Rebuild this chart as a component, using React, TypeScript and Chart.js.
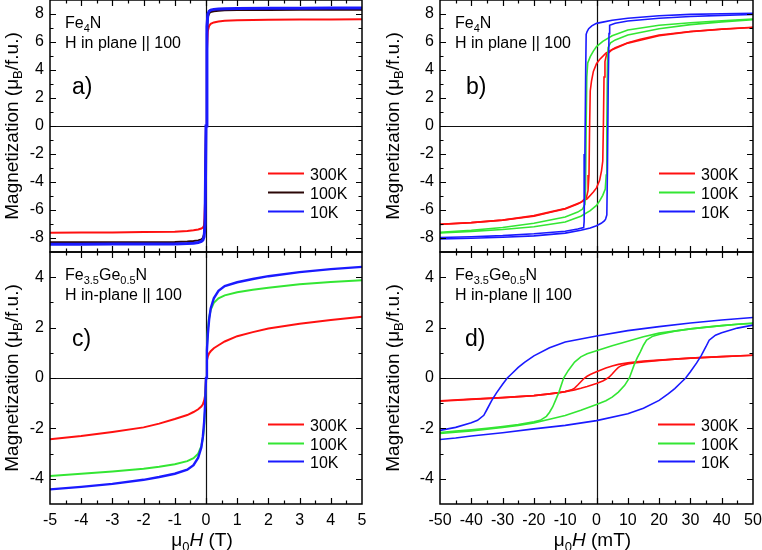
import React, { useEffect, useRef } from 'react';
import { Chart, registerables } from 'chart.js';

Chart.register(...registerables);

const FONT = '"Liberation Sans", Arial, Helvetica, sans-serif';
const RED = '#ff1010';
const GREEN = '#33e633';
const BLUE = '#1a1aff';
const DARK = '#2a0606';

const tempLabels = ['300K', '100K', '10K'];

// labelled tick values
const fe4nMomentTicks = [-8, -6, -4, -2, 0, 2, 4, 6, 8];
const fegeMomentTicks = [-4, -2, 0, 2, 4];
const teslaTicks = [-5, -4, -3, -2, -1, 0, 1, 2, 3, 4, 5];
const milliTeslaTicks = [-50, -40, -30, -20, -10, 0, 10, 20, 30, 40, 50];

// ---------- Fe4N, full field sweep (T) ----------
const fe4nHighH = [-5, -4, -3, -2, -1, -0.6, -0.4, -0.25, -0.15, -0.1, -0.06, -0.03, 0, 0.03, 0.06, 0.1, 0.15, 0.25, 0.4, 0.6, 1, 2, 3, 4, 5];
const fe4nHigh300K = [-7.62, -7.61, -7.6, -7.58, -7.55, -7.5, -7.45, -7.39, -7.32, -7.25, -7.1, -5.4, 0, 5.4, 6.8, 7.15, 7.3, 7.4, 7.47, 7.52, 7.56, 7.59, 7.6, 7.61, 7.62];
const fe4nHigh100K = [-8.31, -8.31, -8.3, -8.3, -8.28, -8.25, -8.22, -8.17, -8.1, -8.0, -7.7, -6.5, 0, 6.6, 7.8, 8.05, 8.15, 8.2, 8.24, 8.26, 8.28, 8.29, 8.3, 8.3, 8.3];
const fe4nHigh10K = [-8.44, -8.44, -8.43, -8.43, -8.42, -8.4, -8.37, -8.32, -8.25, -8.15, -7.9, -7.0, 0, 7.1, 8.0, 8.2, 8.28, 8.33, 8.36, 8.38, 8.4, 8.41, 8.41, 8.42, 8.42];

// ---------- Fe4N, low field loops (mT) ----------
const fe4n300KDownH = [50, 40, 30, 20, 14, 10, 6, 3, 1, 0, -1, -1.6, -2.0, -2.2, -2.4, -2.7, -3.2, -5, -10, -14, -20, -30, -40, -50];
const fe4n300KDownM = [7.05, 6.92, 6.75, 6.5, 6.2, 5.95, 5.6, 5.2, 4.75, 4.45, 3.9, 3.2, 2.5, 0, -3.5, -4.6, -5.1, -5.45, -5.9, -6.1, -6.4, -6.72, -6.9, -7.02];
const fe4n300KUpH = [-50, -40, -30, -20, -14, -10, -6, -3, -1, 0, 1, 1.6, 2.0, 2.2, 2.4, 2.7, 3.2, 5, 10, 14, 20, 30, 40, 50];
const fe4n300KUpM = [-7.03, -6.9, -6.72, -6.45, -6.12, -5.92, -5.58, -5.2, -4.72, -4.42, -3.88, -3.2, -2.5, 0, 3.5, 4.6, 5.1, 5.45, 5.92, 6.12, 6.45, 6.74, 6.91, 7.04];

const fe4n100KDownH = [50, 40, 30, 20, 10, 5, 2, 0, -1, -2, -2.8, -3.1, -3.3, -3.5, -3.7, -4.5, -6, -10, -20, -30, -40, -50];
const fe4n100KDownM = [7.64, 7.52, 7.38, 7.2, 6.86, 6.45, 6.05, 5.67, 5.35, 4.95, 4.5, 3.5, 0, -4.5, -5.6, -5.95, -6.15, -6.5, -6.95, -7.25, -7.45, -7.6];
const fe4n100KUpH = [-50, -40, -30, -20, -10, -5, -2, 0, 1, 2, 2.8, 3.1, 3.3, 3.5, 3.7, 4.5, 6, 10, 20, 30, 40, 50];
const fe4n100KUpM = [-7.64, -7.53, -7.39, -7.2, -6.86, -6.45, -6.05, -5.67, -5.35, -4.95, -4.5, -3.5, 0, 4.5, 5.6, 5.95, 6.15, 6.5, 6.95, 7.24, 7.44, 7.6];

const fe4n10KDownH = [50, 40, 30, 20, 10, 5, 2, 0, -1.5, -2.5, -3.0, -3.3, -3.45, -3.7, -3.95, -4.1, -6, -10, -20, -30, -40, -50];
const fe4n10KDownM = [8.05, 8.02, 7.97, 7.88, 7.7, 7.55, 7.42, 7.33, 7.15, 6.95, 6.75, 6.55, 4.0, -2.0, -6.8, -7.25, -7.36, -7.52, -7.7, -7.83, -7.91, -7.96];
const fe4n10KUpH = [-50, -40, -30, -20, -10, -5, -2, 0, 1.5, 2.5, 2.9, 3.3, 3.5, 3.75, 4.0, 4.2, 6, 10, 20, 30, 40, 50];
const fe4n10KUpM = [-8.06, -8.02, -7.95, -7.85, -7.65, -7.45, -7.28, -7.12, -6.95, -6.78, -6.65, -6.35, -3.0, 3.0, 6.6, 7.2, 7.34, 7.5, 7.7, 7.82, 7.9, 7.96];

// ---------- Fe3.5Ge0.5N, full field sweep (T) ----------
const fegeHighH = [-5, -4, -3, -2, -1.5, -1, -0.6, -0.4, -0.25, -0.15, -0.1, -0.06, -0.03, 0, 0.03, 0.06, 0.1, 0.15, 0.25, 0.4, 0.6, 1, 1.5, 2, 3, 4, 5];
const fegeHigh300K = [-2.43, -2.3, -2.14, -1.96, -1.81, -1.63, -1.47, -1.35, -1.24, -1.13, -1.04, -0.9, -0.7, 0, 0.7, 0.86, 0.98, 1.06, 1.18, 1.3, 1.45, 1.66, 1.82, 1.96, 2.15, 2.3, 2.43];
const fegeHigh100K = [-3.89, -3.8, -3.71, -3.6, -3.52, -3.42, -3.3, -3.18, -3.0, -2.7, -2.4, -1.95, -1.25, 0, 1.25, 1.95, 2.4, 2.7, 2.98, 3.16, 3.28, 3.4, 3.5, 3.58, 3.72, 3.81, 3.88];
const fegeHigh10K = [-4.42, -4.32, -4.2, -4.04, -3.93, -3.8, -3.64, -3.46, -3.16, -2.76, -2.32, -1.75, -1.1, 0, 1.1, 1.75, 2.32, 2.76, 3.16, 3.46, 3.65, 3.8, 3.93, 4.04, 4.2, 4.32, 4.41];

// ---------- Fe3.5Ge0.5N, low field loops (mT) ----------
const fege300KDownH = [50, 40, 30, 20, 15, 10, 7, 5, 3, 0, -2, -3, -4, -5, -6, -7, -8, -10, -12, -15, -20, -25, -30, -40, -50];
const fege300KDownM = [0.9, 0.85, 0.79, 0.71, 0.67, 0.6, 0.54, 0.48, 0.4, 0.25, 0.14, 0.07, -0.02, -0.15, -0.28, -0.4, -0.47, -0.54, -0.58, -0.63, -0.7, -0.74, -0.78, -0.85, -0.92];
const fege300KUpH = [-50, -40, -30, -25, -20, -15, -12, -10, -7, -5, -3, 0, 2, 3, 4, 5, 6, 7, 8, 10, 12, 15, 20, 25, 30, 40, 50];
const fege300KUpM = [-0.9, -0.84, -0.78, -0.74, -0.7, -0.63, -0.58, -0.54, -0.47, -0.41, -0.34, -0.22, -0.12, -0.05, 0.03, 0.16, 0.3, 0.42, 0.49, 0.56, 0.6, 0.64, 0.7, 0.75, 0.79, 0.85, 0.9];

const fege100KDownH = [50, 40, 30, 20, 15, 10, 5, 0, -3, -5, -7, -9, -10.5, -12, -13, -14, -15, -16, -18, -20, -25, -30, -35, -40, -45, -50];
const fege100KDownM = [2.18, 2.08, 1.95, 1.78, 1.64, 1.46, 1.28, 1.08, 0.96, 0.84, 0.63, 0.3, 0, -0.56, -0.86, -1.15, -1.36, -1.52, -1.68, -1.74, -1.85, -1.93, -2.0, -2.06, -2.11, -2.16];
const fege100KUpH = [-50, -45, -40, -35, -30, -25, -20, -15, -10, -5, 0, 3, 5, 7, 9, 10.5, 12, 13, 14, 15, 16, 18, 20, 25, 30, 35, 40, 45, 50];
const fege100KUpM = [-2.2, -2.15, -2.1, -2.03, -1.96, -1.88, -1.78, -1.64, -1.49, -1.28, -1.05, -0.9, -0.76, -0.56, -0.29, 0, 0.51, 0.8, 1.04, 1.3, 1.5, 1.66, 1.73, 1.86, 1.95, 2.02, 2.08, 2.13, 2.16];

const fege10KDownH = [50, 40, 30, 20, 10, 0, -10, -15, -20, -23, -25, -27, -28.5, -30, -32, -33.5, -35, -36, -38, -40, -45, -50];
const fege10KDownM = [2.4, 2.3, 2.18, 2.04, 1.88, 1.67, 1.43, 1.2, 0.88, 0.62, 0.42, 0.18, 0, -0.25, -0.6, -0.9, -1.25, -1.48, -1.68, -1.78, -1.96, -2.08];
const fege10KUpH = [-50, -45, -40, -30, -20, -10, 0, 10, 15, 20, 23, 25, 27, 28.5, 30, 32, 33.5, 35, 36, 38, 40, 45, 50];
const fege10KUpM = [-2.44, -2.38, -2.3, -2.17, -2.02, -1.88, -1.69, -1.42, -1.2, -0.89, -0.62, -0.42, -0.18, 0, 0.25, 0.6, 0.9, 1.25, 1.5, 1.7, 1.8, 1.98, 2.1];

type Seg = { t: string; sub?: boolean; it?: boolean };
type Branch = [number[], number[]];
type Series = { label: string; color: string; width: number; branches: Branch[] };
type Panel = {
  box: { left: number; top: number; right: number; bottom: number };
  x: { min: number; max: number; major: number; minor: number; labels: number[] | null };
  y: { min: number; max: number; major: number; minor: number; labels: number[] };
  series: Series[];
  formula: Seg[];
  fieldText: string;
  tag: string;
  tagDx: number;
  titleX: number;
  xTitle?: Seg[];
  legend: { x1: number; x2: number; tx: number; rows: number[] };
};

const yTitle: Seg[] = [{ t: 'Magnetization (μ' }, { t: 'B', sub: true }, { t: '/f.u.)' }];
const fe4nFormula: Seg[] = [{ t: 'Fe' }, { t: '4', sub: true }, { t: 'N' }];
const fegeFormula: Seg[] = [{ t: 'Fe' }, { t: '3.5', sub: true }, { t: 'Ge' }, { t: '0.5', sub: true }, { t: 'N' }];
const teslaTitle: Seg[] = [{ t: 'μ' }, { t: '0', sub: true }, { t: 'H', it: true }, { t: ' (T)' }];
const milliTeslaTitle: Seg[] = [{ t: 'μ' }, { t: '0', sub: true }, { t: 'H', it: true }, { t: ' (mT)' }];

const panels: Panel[] = [
  {
    box: { left: 50, top: 0, right: 362, bottom: 252 },
    x: { min: -5, max: 5, major: 1, minor: 0.5, labels: null },
    y: { min: -9, max: 9, major: 2, minor: 1, labels: fe4nMomentTicks },
    series: [
      { label: tempLabels[0], color: RED, width: 2, branches: [[fe4nHighH, fe4nHigh300K]] },
      { label: tempLabels[1], color: DARK, width: 2, branches: [[fe4nHighH, fe4nHigh100K]] },
      { label: tempLabels[2], color: BLUE, width: 3, branches: [[fe4nHighH, fe4nHigh10K]] },
    ],
    formula: fe4nFormula,
    fieldText: 'H in plane || 100',
    tag: 'a)',
    tagDx: 22,
    titleX: 17.5,
    legend: { x1: 268, x2: 304, tx: 310, rows: [173, 192, 211] },
  },
  {
    box: { left: 440, top: 0, right: 753, bottom: 252 },
    x: { min: -50, max: 50, major: 10, minor: 5, labels: null },
    y: { min: -9, max: 9, major: 2, minor: 1, labels: fe4nMomentTicks },
    series: [
      { label: tempLabels[0], color: RED, width: 1.6, branches: [[fe4n300KDownH, fe4n300KDownM], [fe4n300KUpH, fe4n300KUpM]] },
      { label: tempLabels[1], color: GREEN, width: 1.6, branches: [[fe4n100KDownH, fe4n100KDownM], [fe4n100KUpH, fe4n100KUpM]] },
      { label: tempLabels[2], color: BLUE, width: 1.6, branches: [[fe4n10KDownH, fe4n10KDownM], [fe4n10KUpH, fe4n10KUpM]] },
    ],
    formula: fe4nFormula,
    fieldText: 'H in plane || 100',
    tag: 'b)',
    tagDx: 26,
    titleX: 398.5,
    legend: { x1: 659, x2: 695, tx: 701, rows: [173, 192, 211] },
  },
  {
    box: { left: 50, top: 252, right: 362, bottom: 504 },
    x: { min: -5, max: 5, major: 1, minor: 0.5, labels: teslaTicks },
    y: { min: -5, max: 5, major: 2, minor: 1, labels: fegeMomentTicks },
    series: [
      { label: tempLabels[0], color: RED, width: 2, branches: [[fegeHighH, fegeHigh300K]] },
      { label: tempLabels[1], color: GREEN, width: 2, branches: [[fegeHighH, fegeHigh100K]] },
      { label: tempLabels[2], color: BLUE, width: 2.4, branches: [[fegeHighH, fegeHigh10K]] },
    ],
    formula: fegeFormula,
    fieldText: 'H in-plane || 100',
    tag: 'c)',
    tagDx: 22,
    titleX: 17.5,
    xTitle: teslaTitle,
    legend: { x1: 268, x2: 304, tx: 310, rows: [424, 443, 461] },
  },
  {
    box: { left: 440, top: 252, right: 753, bottom: 504 },
    x: { min: -50, max: 50, major: 10, minor: 5, labels: milliTeslaTicks },
    y: { min: -5, max: 5, major: 2, minor: 1, labels: fegeMomentTicks },
    series: [
      { label: tempLabels[0], color: RED, width: 1.6, branches: [[fege300KDownH, fege300KDownM], [fege300KUpH, fege300KUpM]] },
      { label: tempLabels[1], color: GREEN, width: 1.6, branches: [[fege100KDownH, fege100KDownM], [fege100KUpH, fege100KUpM]] },
      { label: tempLabels[2], color: BLUE, width: 1.6, branches: [[fege10KDownH, fege10KDownM], [fege10KUpH, fege10KUpM]] },
    ],
    formula: fegeFormula,
    fieldText: 'H in-plane || 100',
    tag: 'd)',
    tagDx: 25,
    titleX: 398.5,
    xTitle: milliTeslaTitle,
    legend: { x1: 658, x2: 695, tx: 701, rows: [424, 443, 461] },
  },
];

const PAGE_W = 762;
const PAGE_H = 550;
const Y_AXIS_W = 50;
const X_AXIS_H = 46;

function segFont(s: Seg, size: number) {
  return `${s.it ? 'italic ' : ''}${s.sub ? Math.round(size * 0.7) : size}px ${FONT}`;
}

function drawRich(ctx: CanvasRenderingContext2D, segs: Seg[], x: number, y: number, size: number, align: 'left' | 'center') {
  ctx.textAlign = 'left';
  ctx.textBaseline = 'alphabetic';
  let total = 0;
  for (const s of segs) {
    ctx.font = segFont(s, size);
    total += ctx.measureText(s.t).width;
  }
  let cx = align === 'center' ? x - total / 2 : x;
  for (const s of segs) {
    ctx.font = segFont(s, size);
    ctx.fillText(s.t, cx, s.sub ? y + size * 0.24 : y);
    cx += ctx.measureText(s.t).width;
  }
}

function makeDecor(p: Panel) {
  return {
    id: 'panelDecor',
    beforeDatasetsDraw(chart: any) {
      const { ctx, chartArea: a, scales } = chart;
      const x0 = Math.round(scales.x.getPixelForValue(0)) + 0.5;
      const y0 = Math.round(scales.y.getPixelForValue(0)) + 0.5;
      ctx.save();
      ctx.strokeStyle = '#111';
      ctx.lineWidth = 1.2;
      ctx.beginPath();
      ctx.moveTo(a.left, y0);
      ctx.lineTo(a.right, y0);
      ctx.moveTo(x0, a.top);
      ctx.lineTo(x0, a.bottom);
      ctx.stroke();
      ctx.restore();
    },
    afterDatasetsDraw(chart: any) {
      const { ctx, chartArea: a, scales } = chart;
      ctx.save();
      ctx.strokeStyle = '#000';
      // frame
      ctx.lineWidth = 1.5;
      ctx.strokeRect(a.left, a.top, a.right - a.left, a.bottom - a.top);
      // inward ticks on all four sides
      ctx.lineWidth = 1.2;
      ctx.beginPath();
      const nx = Math.round((p.x.max - p.x.min) / p.x.minor);
      for (let i = 1; i < nx; i++) {
        const v = p.x.min + i * p.x.minor;
        const px = Math.round(scales.x.getPixelForValue(v)) + 0.5;
        const len = Math.abs(v / p.x.major - Math.round(v / p.x.major)) < 1e-6 ? 6 : 3.5;
        ctx.moveTo(px, a.bottom);
        ctx.lineTo(px, a.bottom - len);
        ctx.moveTo(px, a.top);
        ctx.lineTo(px, a.top + len);
      }
      const ny = Math.round((p.y.max - p.y.min) / p.y.minor);
      for (let i = 1; i < ny; i++) {
        const v = p.y.min + i * p.y.minor;
        const py = Math.round(scales.y.getPixelForValue(v)) + 0.5;
        const len = Math.abs(v / p.y.major - Math.round(v / p.y.major)) < 1e-6 ? 6 : 3.5;
        ctx.moveTo(a.left, py);
        ctx.lineTo(a.left + len, py);
        ctx.moveTo(a.right, py);
        ctx.lineTo(a.right - len, py);
      }
      ctx.stroke();

      // annotations
      ctx.fillStyle = '#000';
      drawRich(ctx, p.formula, a.left + 15, a.top + 28, 16, 'left');
      drawRich(ctx, [{ t: p.fieldText }], a.left + 15, a.top + 47.5, 16, 'left');
      drawRich(ctx, [{ t: p.tag }], a.left + p.tagDx, a.top + 94, 23, 'left');

      // legend
      p.series.forEach((s, i) => {
        const y = p.legend.rows[i];
        ctx.strokeStyle = s.color;
        ctx.lineWidth = 2;
        ctx.beginPath();
        ctx.moveTo(p.legend.x1, y + 0.5);
        ctx.lineTo(p.legend.x2, y + 0.5);
        ctx.stroke();
        ctx.fillStyle = '#000';
        drawRich(ctx, [{ t: s.label }], p.legend.tx, y + 6.5, 16, 'left');
      });

      // axis titles
      ctx.save();
      ctx.translate(p.titleX, (a.top + a.bottom) / 2);
      ctx.rotate(-Math.PI / 2);
      drawRich(ctx, yTitle, 0, 0, 19, 'center');
      ctx.restore();
      if (p.xTitle) {
        drawRich(ctx, p.xTitle, (a.left + a.right) / 2 - 4, 546, 19, 'center');
      }
      ctx.restore();
    },
  };
}

function buildConfig(p: Panel): any {
  const datasets: any[] = [];
  // the first dataset is painted last, so the coldest curve sits on top
  [...p.series].reverse().forEach((s) => {
    s.branches.forEach(([h, m]) => {
      datasets.push({
        label: s.label,
        data: h.map((v, i) => ({ x: v, y: m[i] })),
        showLine: true,
        borderColor: s.color,
        backgroundColor: s.color,
        borderWidth: s.width,
        pointRadius: 0,
        pointHoverRadius: 0,
        tension: 0,
        fill: false,
      });
    });
  });
  const tickFont = { family: FONT, size: 16 };
  const xLabels = p.x.labels;
  const yLabels = p.y.labels;
  return {
    type: 'scatter',
    data: { datasets },
    plugins: [makeDecor(p)],
    options: {
      responsive: false,
      animation: false,
      devicePixelRatio: 1,
      events: [],
      layout: {
        padding: {
          left: p.box.left - Y_AXIS_W,
          right: PAGE_W - p.box.right,
          top: p.box.top,
          bottom: PAGE_H - p.box.bottom - (xLabels ? X_AXIS_H : 0),
        },
      },
      plugins: { legend: { display: false }, tooltip: { enabled: false }, title: { display: false } },
      scales: {
        x: {
          type: 'linear',
          min: p.x.min,
          max: p.x.max,
          grid: { display: false, drawTicks: false },
          border: { display: false },
          afterBuildTicks: (s: any) => {
            s.ticks = (xLabels || []).map((v) => ({ value: v }));
          },
          ticks: {
            display: !!xLabels,
            autoSkip: false,
            maxRotation: 0,
            padding: 7,
            color: '#000',
            font: tickFont,
          },
          afterFit: (s: any) => {
            s.height = xLabels ? X_AXIS_H : 0;
            s.paddingLeft = 0;
            s.paddingRight = 0;
          },
        },
        y: {
          type: 'linear',
          min: p.y.min,
          max: p.y.max,
          grid: { display: false, drawTicks: false },
          border: { display: false },
          afterBuildTicks: (s: any) => {
            s.ticks = yLabels.map((v) => ({ value: v }));
          },
          ticks: {
            padding: 6,
            color: '#000',
            font: tickFont,
          },
          afterFit: (s: any) => {
            s.width = Y_AXIS_W;
            s.paddingTop = 0;
            s.paddingBottom = 0;
          },
        },
      },
    },
  };
}

function PanelCanvas({ panel }: { panel: Panel }) {
  const ref = useRef<HTMLCanvasElement | null>(null);
  useEffect(() => {
    if (!ref.current) return;
    const chart = new Chart(ref.current, buildConfig(panel));
    return () => chart.destroy();
  }, [panel]);
  return (
    <canvas
      ref={ref}
      width={PAGE_W}
      height={PAGE_H}
      style={{ position: 'absolute', left: 0, top: 0, width: PAGE_W, height: PAGE_H }}
    />
  );
}

export default function App() {
  useEffect(() => {
    document.body.style.margin = '0';
    document.body.style.background = '#fff';
  }, []);
  return (
    <div style={{ position: 'relative', width: PAGE_W, height: PAGE_H, background: '#fff', overflow: 'hidden' }}>
      {panels.map((p, i) => (
        <PanelCanvas key={i} panel={p} />
      ))}
    </div>
  );
}
